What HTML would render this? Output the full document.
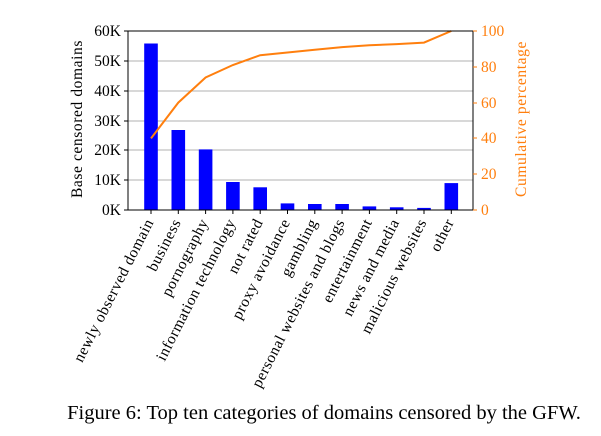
<!DOCTYPE html>
<html><head><style>body{margin:0;background:#fff}svg{display:block}</style></head><body>
<svg width="601" height="436" xmlns="http://www.w3.org/2000/svg" font-family="Liberation Serif, serif">
<g stroke="#b0b0b0" stroke-width="1">
<line x1="128" x2="473" y1="61" y2="61"/><line x1="128" x2="473" y1="91" y2="91"/><line x1="128" x2="473" y1="121" y2="121"/><line x1="128" x2="473" y1="150" y2="150"/><line x1="128" x2="473" y1="180" y2="180"/>
</g>
<g fill="#0000ff">
<rect x="144.2" y="43.5" width="13.6" height="166.5"/>
<rect x="171.5" y="130" width="13.6" height="80"/>
<rect x="198.8" y="149.4" width="13.6" height="60.6"/>
<rect x="226.1" y="182" width="13.6" height="28"/>
<rect x="253.4" y="187.3" width="13.6" height="22.7"/>
<rect x="280.7" y="203.4" width="13.6" height="6.6"/>
<rect x="308" y="204" width="13.6" height="6"/>
<rect x="335.3" y="204" width="13.6" height="6"/>
<rect x="362.6" y="206.4" width="13.6" height="3.6"/>
<rect x="389.9" y="207.3" width="13.6" height="2.7"/>
<rect x="417.2" y="207.9" width="13.6" height="2.1"/>
<rect x="444.5" y="183.1" width="13.6" height="26.9"/>
</g>
<polyline fill="none" stroke="#ff7f0e" stroke-width="2" points="151,138.4 178.3,102.6 205.6,77.5 232.9,65 260.2,55.2 287.5,52.5 314.8,49.8 342.1,47.1 369.4,45.3 396.7,44.1 424,42.6 451.3,31"/>
<rect x="128" y="31" width="345" height="179" fill="none" stroke="#000" stroke-width="1"/>
<g stroke="#000"><line x1="124" x2="128" y1="31" y2="31"/><line x1="124" x2="128" y1="61" y2="61"/><line x1="124" x2="128" y1="91" y2="91"/><line x1="124" x2="128" y1="121" y2="121"/><line x1="124" x2="128" y1="150" y2="150"/><line x1="124" x2="128" y1="180" y2="180"/><line x1="124" x2="128" y1="210" y2="210"/>
<line x1="151" x2="151" y1="210" y2="214"/><line x1="178.3" x2="178.3" y1="210" y2="214"/><line x1="205.6" x2="205.6" y1="210" y2="214"/><line x1="232.9" x2="232.9" y1="210" y2="214"/><line x1="260.2" x2="260.2" y1="210" y2="214"/><line x1="287.5" x2="287.5" y1="210" y2="214"/><line x1="314.8" x2="314.8" y1="210" y2="214"/><line x1="342.1" x2="342.1" y1="210" y2="214"/><line x1="369.4" x2="369.4" y1="210" y2="214"/><line x1="396.7" x2="396.7" y1="210" y2="214"/><line x1="424" x2="424" y1="210" y2="214"/><line x1="451.3" x2="451.3" y1="210" y2="214"/></g>
<g stroke="#ff7f0e"><line x1="473" x2="477" y1="31" y2="31"/><line x1="473" x2="477" y1="67" y2="67"/><line x1="473" x2="477" y1="103" y2="103"/><line x1="473" x2="477" y1="138" y2="138"/><line x1="473" x2="477" y1="174" y2="174"/><line x1="473" x2="477" y1="210" y2="210"/></g>
<g font-size="15.5" text-anchor="end">
<text x="121" y="36">60K</text><text x="121" y="66">50K</text><text x="121" y="96">40K</text><text x="121" y="126">30K</text><text x="121" y="155">20K</text><text x="121" y="185">10K</text><text x="121" y="215">0K</text></g>
<g font-size="15.5" fill="#ff7f0e"><text x="481" y="36">100</text><text x="481" y="72">80</text><text x="481" y="108">60</text><text x="481" y="143">40</text><text x="481" y="179">20</text><text x="481" y="215">0</text></g>
<text font-size="15.5" letter-spacing="0.6" text-anchor="middle" transform="translate(82,119) rotate(-90)">Base censored domains</text>
<text font-size="15.5" letter-spacing="0.6" fill="#ff7f0e" text-anchor="middle" transform="translate(526,119) rotate(-90)">Cumulative percentage</text>
<g font-size="15.5" letter-spacing="0.5" text-anchor="end">
<text transform="translate(154,222) rotate(-63)">newly observed domain</text>
<text transform="translate(181.3,222) rotate(-63)">business</text>
<text transform="translate(208.6,222) rotate(-63)">pornography</text>
<text transform="translate(235.9,222) rotate(-63)">information technology</text>
<text transform="translate(263.2,222) rotate(-63)">not rated</text>
<text transform="translate(290.5,222) rotate(-63)">proxy avoidance</text>
<text transform="translate(317.8,222) rotate(-63)">gambling</text>
<text transform="translate(345.1,222) rotate(-63)">personal websites and blogs</text>
<text transform="translate(372.4,222) rotate(-63)">entertainment</text>
<text transform="translate(399.7,222) rotate(-63)">news and media</text>
<text transform="translate(427,222) rotate(-63)">malicious websites</text>
<text transform="translate(454.3,222) rotate(-63)">other</text>
</g>
<text x="324" y="419" font-size="20.5" text-anchor="middle">Figure 6: Top ten categories of domains censored by the GFW.</text>
</svg>
</body></html>
